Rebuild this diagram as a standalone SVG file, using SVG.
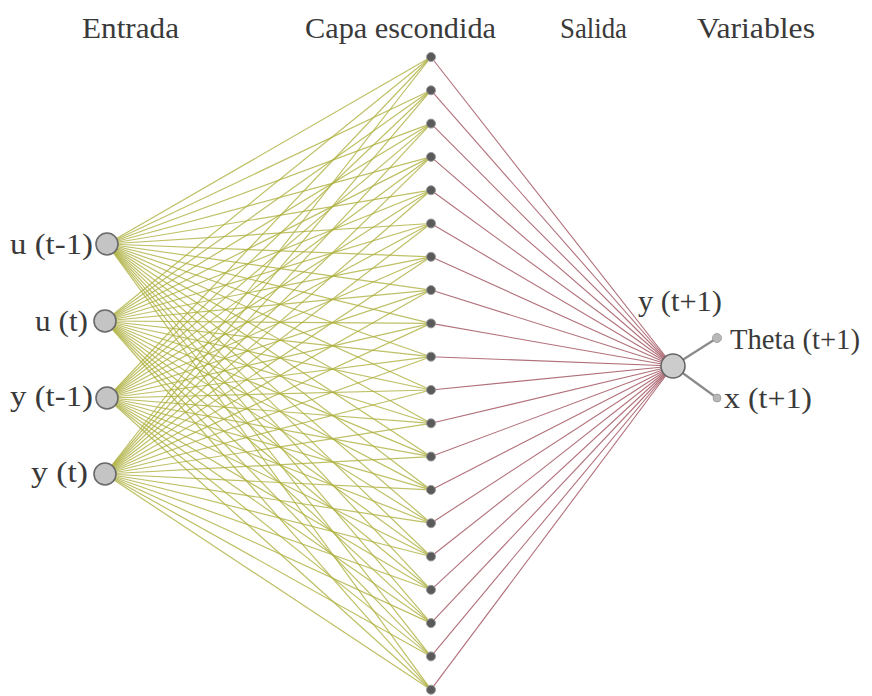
<svg xmlns="http://www.w3.org/2000/svg" width="872" height="696" viewBox="0 0 872 696">
<style>
text{font-family:"Liberation Serif","Times New Roman",serif;font-size:29px;fill:#3a3a3a}
.g line{stroke:#aeb03e;stroke-width:1.2;stroke-opacity:0.8}
.r line{stroke:#a8606c;stroke-width:1.1;stroke-opacity:0.9}
.v line{stroke:#8a8a8a;stroke-width:2.2}
.in{fill:#c4c4c4;stroke:#6a6a6a;stroke-width:1.6}
.hid{fill:#5a5a5a;stroke:#9a9a9a;stroke-width:1}
.out{fill:#cccccc;stroke:#666;stroke-width:1.6}
.sm{fill:#b8b8b8;stroke:#999;stroke-width:0.8}
</style>
<rect width="872" height="696" fill="#ffffff"/>
<g id="headers">
<text x="82" y="38" textLength="97" lengthAdjust="spacingAndGlyphs">Entrada</text>
<text x="305" y="38" textLength="191" lengthAdjust="spacingAndGlyphs">Capa escondida</text>
<text x="560" y="38" textLength="67" lengthAdjust="spacingAndGlyphs">Salida</text>
<text x="697" y="38" textLength="118" lengthAdjust="spacingAndGlyphs">Variables</text>
</g>
<g id="connectors">
<g class="g">
<line x1="107" y1="244" x2="431" y2="57"/><line x1="107" y1="244" x2="431" y2="90.3"/><line x1="107" y1="244" x2="431" y2="123.6"/><line x1="107" y1="244" x2="431" y2="156.9"/><line x1="107" y1="244" x2="431" y2="190.2"/><line x1="107" y1="244" x2="431" y2="223.5"/><line x1="107" y1="244" x2="431" y2="256.8"/><line x1="107" y1="244" x2="431" y2="290.1"/><line x1="107" y1="244" x2="431" y2="323.4"/><line x1="107" y1="244" x2="431" y2="356.7"/><line x1="107" y1="244" x2="431" y2="390"/><line x1="107" y1="244" x2="431" y2="423.3"/><line x1="107" y1="244" x2="431" y2="456.6"/><line x1="107" y1="244" x2="431" y2="489.9"/><line x1="107" y1="244" x2="431" y2="523.2"/><line x1="107" y1="244" x2="431" y2="556.5"/><line x1="107" y1="244" x2="431" y2="589.8"/><line x1="107" y1="244" x2="431" y2="623.1"/><line x1="107" y1="244" x2="431" y2="656.4"/><line x1="107" y1="244" x2="431" y2="689.7"/>
<line x1="105" y1="321" x2="431" y2="57"/><line x1="105" y1="321" x2="431" y2="90.3"/><line x1="105" y1="321" x2="431" y2="123.6"/><line x1="105" y1="321" x2="431" y2="156.9"/><line x1="105" y1="321" x2="431" y2="190.2"/><line x1="105" y1="321" x2="431" y2="223.5"/><line x1="105" y1="321" x2="431" y2="256.8"/><line x1="105" y1="321" x2="431" y2="290.1"/><line x1="105" y1="321" x2="431" y2="323.4"/><line x1="105" y1="321" x2="431" y2="356.7"/><line x1="105" y1="321" x2="431" y2="390"/><line x1="105" y1="321" x2="431" y2="423.3"/><line x1="105" y1="321" x2="431" y2="456.6"/><line x1="105" y1="321" x2="431" y2="489.9"/><line x1="105" y1="321" x2="431" y2="523.2"/><line x1="105" y1="321" x2="431" y2="556.5"/><line x1="105" y1="321" x2="431" y2="589.8"/><line x1="105" y1="321" x2="431" y2="623.1"/><line x1="105" y1="321" x2="431" y2="656.4"/><line x1="105" y1="321" x2="431" y2="689.7"/>
<line x1="107" y1="398" x2="431" y2="57"/><line x1="107" y1="398" x2="431" y2="90.3"/><line x1="107" y1="398" x2="431" y2="123.6"/><line x1="107" y1="398" x2="431" y2="156.9"/><line x1="107" y1="398" x2="431" y2="190.2"/><line x1="107" y1="398" x2="431" y2="223.5"/><line x1="107" y1="398" x2="431" y2="256.8"/><line x1="107" y1="398" x2="431" y2="290.1"/><line x1="107" y1="398" x2="431" y2="323.4"/><line x1="107" y1="398" x2="431" y2="356.7"/><line x1="107" y1="398" x2="431" y2="390"/><line x1="107" y1="398" x2="431" y2="423.3"/><line x1="107" y1="398" x2="431" y2="456.6"/><line x1="107" y1="398" x2="431" y2="489.9"/><line x1="107" y1="398" x2="431" y2="523.2"/><line x1="107" y1="398" x2="431" y2="556.5"/><line x1="107" y1="398" x2="431" y2="589.8"/><line x1="107" y1="398" x2="431" y2="623.1"/><line x1="107" y1="398" x2="431" y2="656.4"/><line x1="107" y1="398" x2="431" y2="689.7"/>
<line x1="105" y1="474" x2="431" y2="57"/><line x1="105" y1="474" x2="431" y2="90.3"/><line x1="105" y1="474" x2="431" y2="123.6"/><line x1="105" y1="474" x2="431" y2="156.9"/><line x1="105" y1="474" x2="431" y2="190.2"/><line x1="105" y1="474" x2="431" y2="223.5"/><line x1="105" y1="474" x2="431" y2="256.8"/><line x1="105" y1="474" x2="431" y2="290.1"/><line x1="105" y1="474" x2="431" y2="323.4"/><line x1="105" y1="474" x2="431" y2="356.7"/><line x1="105" y1="474" x2="431" y2="390"/><line x1="105" y1="474" x2="431" y2="423.3"/><line x1="105" y1="474" x2="431" y2="456.6"/><line x1="105" y1="474" x2="431" y2="489.9"/><line x1="105" y1="474" x2="431" y2="523.2"/><line x1="105" y1="474" x2="431" y2="556.5"/><line x1="105" y1="474" x2="431" y2="589.8"/><line x1="105" y1="474" x2="431" y2="623.1"/><line x1="105" y1="474" x2="431" y2="656.4"/><line x1="105" y1="474" x2="431" y2="689.7"/>
</g>
<g class="r">
<line x1="431" y1="57" x2="673" y2="366"/><line x1="431" y1="90.3" x2="673" y2="366"/><line x1="431" y1="123.6" x2="673" y2="366"/><line x1="431" y1="156.9" x2="673" y2="366"/><line x1="431" y1="190.2" x2="673" y2="366"/><line x1="431" y1="223.5" x2="673" y2="366"/><line x1="431" y1="256.8" x2="673" y2="366"/><line x1="431" y1="290.1" x2="673" y2="366"/><line x1="431" y1="323.4" x2="673" y2="366"/><line x1="431" y1="356.7" x2="673" y2="366"/><line x1="431" y1="390" x2="673" y2="366"/><line x1="431" y1="423.3" x2="673" y2="366"/><line x1="431" y1="456.6" x2="673" y2="366"/><line x1="431" y1="489.9" x2="673" y2="366"/><line x1="431" y1="523.2" x2="673" y2="366"/><line x1="431" y1="556.5" x2="673" y2="366"/><line x1="431" y1="589.8" x2="673" y2="366"/><line x1="431" y1="623.1" x2="673" y2="366"/><line x1="431" y1="656.4" x2="673" y2="366"/><line x1="431" y1="689.7" x2="673" y2="366"/>
</g>
<g class="v">
<line x1="673" y1="366" x2="717" y2="338"/><line x1="673" y1="366" x2="717" y2="398"/>
</g>
</g>
<g id="in-u-t-1"><circle class="in" cx="107" cy="244" r="11"/><text x="10" y="254" textLength="83" lengthAdjust="spacingAndGlyphs">u (t-1)</text></g>
<g id="in-u-t"><circle class="in" cx="105" cy="321" r="11"/><text x="35" y="331" textLength="53" lengthAdjust="spacingAndGlyphs">u (t)</text></g>
<g id="in-y-t-1"><circle class="in" cx="107" cy="398" r="11"/><text x="10" y="406" textLength="83" lengthAdjust="spacingAndGlyphs">y (t-1)</text></g>
<g id="in-y-t"><circle class="in" cx="105" cy="474" r="11"/><text x="31" y="482" textLength="57" lengthAdjust="spacingAndGlyphs">y (t)</text></g>
<g id="hidden">
<circle class="hid" cx="431" cy="57" r="4.5"/><circle class="hid" cx="431" cy="90.3" r="4.5"/><circle class="hid" cx="431" cy="123.6" r="4.5"/><circle class="hid" cx="431" cy="156.9" r="4.5"/><circle class="hid" cx="431" cy="190.2" r="4.5"/><circle class="hid" cx="431" cy="223.5" r="4.5"/><circle class="hid" cx="431" cy="256.8" r="4.5"/><circle class="hid" cx="431" cy="290.1" r="4.5"/><circle class="hid" cx="431" cy="323.4" r="4.5"/><circle class="hid" cx="431" cy="356.7" r="4.5"/><circle class="hid" cx="431" cy="390" r="4.5"/><circle class="hid" cx="431" cy="423.3" r="4.5"/><circle class="hid" cx="431" cy="456.6" r="4.5"/><circle class="hid" cx="431" cy="489.9" r="4.5"/><circle class="hid" cx="431" cy="523.2" r="4.5"/><circle class="hid" cx="431" cy="556.5" r="4.5"/><circle class="hid" cx="431" cy="589.8" r="4.5"/><circle class="hid" cx="431" cy="623.1" r="4.5"/><circle class="hid" cx="431" cy="656.4" r="4.5"/><circle class="hid" cx="431" cy="689.7" r="4.5"/>
</g>
<g id="out-y-t1"><circle class="out" cx="673" cy="366" r="12"/><text x="638" y="311" textLength="84" lengthAdjust="spacingAndGlyphs">y (t+1)</text></g>
<g id="var-theta"><circle class="sm" cx="717" cy="338" r="4.5"/><text x="730" y="349" textLength="130" lengthAdjust="spacingAndGlyphs">Theta (t+1)</text></g>
<g id="var-x"><circle class="sm" cx="717" cy="398" r="4"/><text x="724" y="408" textLength="88" lengthAdjust="spacingAndGlyphs">x (t+1)</text></g>
</svg>
